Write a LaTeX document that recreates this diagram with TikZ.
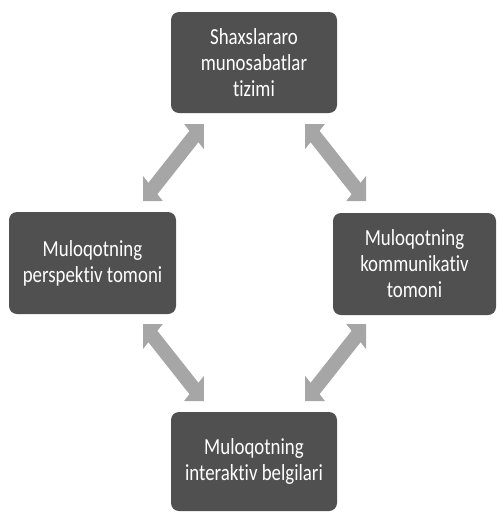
\documentclass[tikz,border=0pt]{standalone}
\usepackage{fontspec}
\setmainfont{Carlito}[FakeStretch=0.82, Ligatures={NoCommon}]
\definecolor{boxgray}{RGB}{80,80,80}
\definecolor{arrgray}{RGB}{166,166,166}
\tikzset{
  box/.style={fill=boxgray, rounded corners=8pt, text=white, align=center,
    inner sep=0pt, font=\fontsize{23}{26}\selectfont},
  dblarrow/.pic={\fill[arrgray] (0,0) -- (25,0) -- (18.2,-6.8) -- (70.2,-58.8)
    -- (77,-52) -- (77,-77) -- (52,-77) -- (58.8,-70.2) -- (6.8,-18.2)
    -- (0,-25) -- cycle;}
}
\begin{document}
\begin{tikzpicture}[x=1pt,y=-1pt]
\useasboundingbox (0,0) rectangle (497,512);
\node[box, minimum width=166pt, minimum height=101pt] (top) at (254,62.5)
  {Shaxslararo\\munosabatlar\\tizimi};
\node[box, minimum width=167pt, minimum height=102pt] (left) at (92.5,263)
  {Muloqotning\\perspektiv tomoni};
\node[box, minimum width=163pt, minimum height=102pt] (right) at (414.5,264)
  {Muloqotning\\kommunikativ\\tomoni};
\node[box, minimum width=166pt, minimum height=99pt] (bottom) at (254,461.5)
  {Muloqotning\\interaktiv belgilari};
\pic[xscale=0.79] (tl) at (143,201) {dblarrow};
\pic[xscale=-0.79] (tr) at (366,201) {dblarrow};
\pic[xscale=0.79, yscale=-1] (bl) at (143,324) {dblarrow};
\pic[xscale=-0.79, yscale=-1] (br) at (366,324) {dblarrow};
\end{tikzpicture}
\end{document}
